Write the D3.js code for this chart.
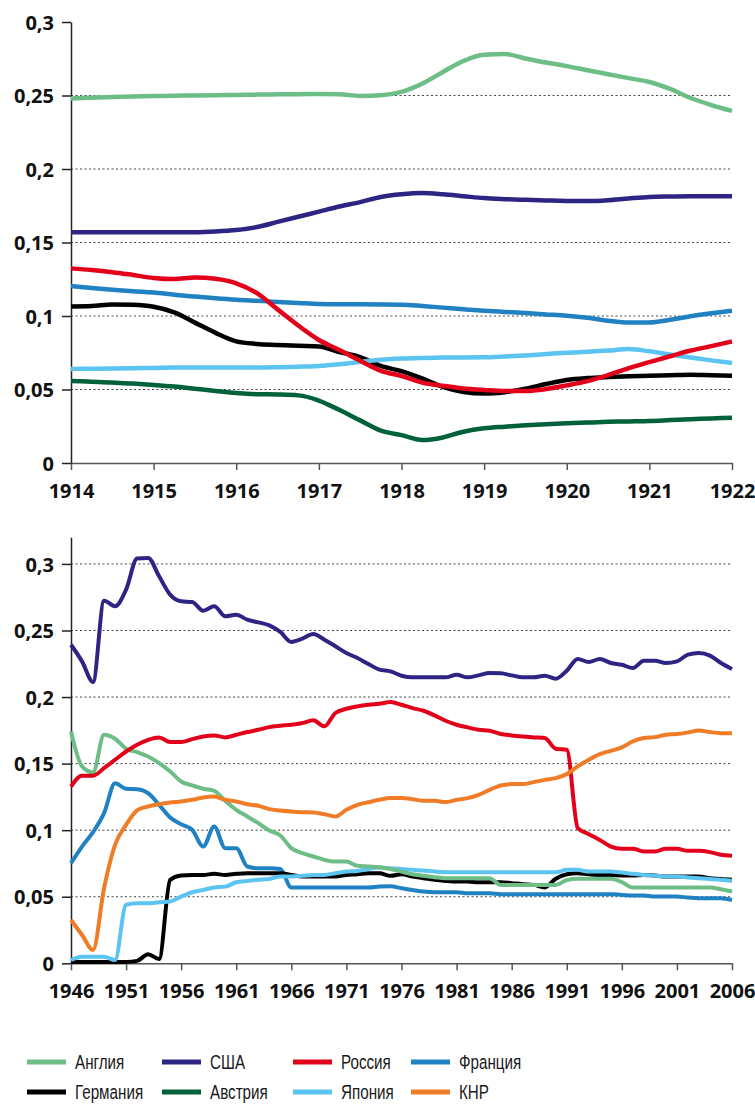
<!DOCTYPE html>
<html>
<head>
<meta charset="utf-8">
<script src="https://cdn.jsdelivr.net/npm/d3@7"></script>
<style>
  body { margin: 0; background: #fff; }
  .tick text { font-family: "Open Sans", "Noto Sans", sans-serif; font-weight: bold; font-size: 20px; fill: #111; }
  .legend text { font-family: "Liberation Sans", Arial, sans-serif; font-size: 19.5px; fill: #1a1a1a; }
</style>
</head>
<body>
<div id="chart"></div>
<script>
// ---- series names and colours (legend order)
const names = ["Англия", "США", "Россия", "Франция", "Германия", "Австрия", "Япония", "КНР"];
const colors = ["#6dbd86", "#2e2483", "#e2001a", "#2081c3", "#000000", "#00613a", "#5bc4f1", "#f07c27"];

// ---- chart 1: 1914-1922 (quarterly readings)
const topYears = [1914, 1914.25, 1914.5, 1914.75, 1915, 1915.25, 1915.5, 1915.75, 1916, 1916.25, 1916.5, 1916.75,
  1917, 1917.25, 1917.5, 1917.75, 1918, 1918.25, 1918.5, 1918.75, 1919, 1919.25, 1919.5, 1919.75,
  1920, 1920.25, 1920.5, 1920.75, 1921, 1921.25, 1921.5, 1921.75, 1922];
const topEngland = [.248, .2485, .249, .2493, .2496, .2499, .25, .2502, .2504, .2506, .2508, .2509,
  .251, .2508, .2497, .2502, .2525, .258, .266, .2735, .2777, .2782, .2752, .2724,
  .27, .2672, .2645, .2618, .2592, .2545, .2483, .2435, .2395];
const topUSA = [.157, .157, .157, .157, .157, .157, .157, .1575, .1585, .1605, .164, .1675,
  .171, .1745, .1775, .181, .1828, .1836, .1828, .1815, .1802, .1795, .179, .1786,
  .1783, .1782, .1788, .18, .181, .1813, .1815, .1815, .1815];
const topRussia = [.1324, .1313, .1298, .1279, .1259, .1251, .1262, .1253, .1222, .1155, .1045, .0935,
  .0837, .0768, .0695, .0627, .0592, .0548, .0525, .0507, .0497, .049, .049, .0503,
  .0528, .0557, .0598, .0646, .0686, .0726, .0765, .0795, .0827];
const topFrance = [.1204, .119, .1178, .1168, .116, .1145, .1132, .112, .111, .1103, .1096, .1089,
  .1082, .108, .108, .1079, .1077, .1068, .1057, .1046, .1036, .1028, .102, .1011,
  .1002, .0988, .0968, .0955, .0956, .0975, .0998, .1018, .1036];
const topGermany = [.1065, .1068, .1078, .1076, .1063, .1025, .0955, .0885, .0827, .081, .0803, .0797,
  .0793, .0755, .072, .066, .0625, .0575, .0518, .0483, .0472, .0482, .0505, .0537,
  .0565, .0578, .0585, .059, .0594, .0597, .06, .0597, .0594];
const topAustria = [.0558, .0553, .0548, .054, .0531, .052, .0505, .049, .0476, .0468, .0466, .046,
  .0425, .036, .029, .022, .019, .0156, .0174, .0213, .0236, .0247, .0256, .0264,
  .027, .0275, .028, .0283, .0286, .0292, .0298, .0303, .0308];
const topJapan = [.064, .0641, .0643, .0645, .0647, .0649, .065, .065, .065, .065, .0652, .0655,
  .066, .0672, .0688, .0702, .0711, .0715, .0717, .0718, .0719, .0725, .0732, .0741,
  .075, .0757, .0765, .0775, .076, .0738, .0718, .0698, .068];
const topXTicks = [1914, 1915, 1916, 1917, 1918, 1919, 1920, 1921, 1922];
const topYTicks = [0, 0.05, 0.1, 0.15, 0.2, 0.25, 0.3];

// ---- chart 2: 1946-2006 (yearly readings)
const bottomYears = [1946, 1947, 1948, 1949, 1950, 1951, 1952, 1953, 1954, 1955, 1956, 1957, 1958, 1959, 1960,
  1961, 1962, 1963, 1964, 1965, 1966, 1967, 1968, 1969, 1970, 1971, 1972, 1973, 1974, 1975,
  1976, 1977, 1978, 1979, 1980, 1981, 1982, 1983, 1984, 1985, 1986, 1987, 1988, 1989, 1990,
  1991, 1992, 1993, 1994, 1995, 1996, 1997, 1998, 1999, 2000, 2001, 2002, 2003, 2004, 2005, 2006];
const bottomUSA = [.2393, .2268, .2113, .2724, .2682, .2807, .304, .3045, .2907, .2769, .2719, .2714, .2649, .2682, .2607,
  .2619, .2581, .2561, .2539, .2489, .2414, .2439, .2474, .2431, .2381, .2331, .2293, .2248, .2206, .2193,
  .216, .2148, .2148, .2148, .2148, .2168, .2148, .2163, .218, .2178, .2163, .2148, .2148, .216, .2138,
  .2198, .2286, .2263, .2286, .2256, .2243, .2218, .2273, .2273, .2256, .2268, .2318, .2331, .2311, .2256, .221];
const bottomRussia = [.1328, .1409, .1409, .1466, .1529, .1591, .1642, .1679, .1697, .1662, .1662, .1684, .1704, .1712, .1697,
  .1717, .1737, .1754, .1774, .1784, .1792, .1805, .1825, .178, .188, .1912, .193, .1942, .195, .1962,
  .1942, .1917, .1897, .1862, .1822, .1792, .1772, .1754, .1747, .1722, .1712, .1704, .1697, .1692, .1612,
  .1604, .1015, .097, .0927, .0877, .086, .086, .084, .084, .086, .086, .0845, .0845, .0835, .0815, .0807];
const bottomEngland = [.1742, .1479, .1434, .1717, .1687, .1612, .1586, .1554, .1504, .1441, .1366, .1336, .1311, .1296, .1221,
  .1153, .1103, .1053, .0997, .096, .0865, .0827, .0802, .0777, .0764, .0764, .0732, .0727, .0722, .0709,
  .0689, .0669, .0657, .0647, .0639, .0639, .0639, .0639, .0639, .0589, .0589, .0589, .0589, .0589, .0589,
  .0625, .0635, .0635, .0635, .0635, .0609, .0569, .0569, .0569, .0569, .0569, .0569, .0569, .0569, .0556, .0539];
const bottomFrance = [.0752, .0877, .0985, .1128, .1353, .1311, .1308, .1278, .119, .1095, .1045, .1003, .0877, .1028, .0865,
  .0865, .0727, .0714, .0714, .0709, .0569, .0569, .0569, .0569, .0569, .0569, .0569, .0569, .0576, .0579,
  .0564, .0551, .0539, .0534, .0534, .0534, .0526, .0526, .0526, .0519, .0519, .0519, .0519, .0519, .0519,
  .0519, .0519, .0519, .0519, .0519, .0514, .0509, .0509, .0501, .0501, .0501, .0494, .0489, .0489, .0489, .0476];
const bottomGermany = [.001, .001, .001, .001, .001, .001, .0018, .0068, .0033, .0627, .0659, .0664, .0664, .0672, .0664,
  .0672, .0677, .0677, .0677, .0677, .0664, .0652, .0652, .0652, .0652, .0664, .0669, .0677, .0677, .0657,
  .0669, .0652, .0639, .0627, .0619, .0614, .0614, .0609, .0609, .0609, .0602, .0594, .0589, .057, .0635,
  .0669, .0677, .0669, .0664, .0664, .0659, .0659, .0664, .0659, .0652, .0652, .0652, .0652, .0639, .0634, .0627];
const bottomJapan = [.0025, .005, .005, .005, .0025, .044, .0451, .0451, .0459, .0464, .0501, .0534, .0551, .0569, .0576,
  .0609, .0619, .0627, .0634, .0652, .0652, .0657, .0664, .0664, .0677, .0689, .0694, .0709, .0719, .0714,
  .0709, .0702, .0697, .0689, .0684, .0684, .0684, .0684, .0684, .0684, .0684, .0684, .0684, .0684, .0684,
  .0702, .0702, .0689, .0689, .0689, .0682, .0672, .0664, .0659, .0652, .0652, .0644, .0639, .0634, .0627, .0619];
const bottomChina = [.0326, .0213, .01, .0564, .089, .104, .1148, .1178, .1195, .1208, .1216, .1228, .1246, .1253, .1228,
  .1216, .1195, .1183, .1158, .1148, .114, .1135, .1133, .112, .1103, .1153, .119, .121, .1228, .1241,
  .1241, .1233, .1221, .1221, .1211, .1228, .1241, .1266, .1303, .1336, .1346, .1346, .1361, .1378, .1391,
  .1421, .1479, .1529, .1571, .1596, .1622, .1667, .1692, .1699, .1717, .1722, .1734, .1749, .1737, .1729, .1729];
const bottomXTicks = [1946, 1951, 1956, 1961, 1966, 1971, 1976, 1981, 1986, 1991, 1996, 2001, 2006];
const bottomYTicks = [0, 0.05, 0.1, 0.15, 0.2, 0.25, 0.3];

const W = 755, H = 1104;
const svg = d3.select("#chart").append("svg")
    .attr("width", W)
    .attr("height", H);

const colorOf = d3.scaleOrdinal().domain(names).range(colors);
const commaFmt = d => String(d).replace(".", ",");

function drawChart(opts) {
    const x = d3.scaleLinear().domain(opts.xDomain).range([71, 732]);
    const y = d3.scaleLinear().domain(opts.yDomain).range(opts.yRange);
    const g = svg.append("g");

    // dotted grid
    g.append("g").selectAll("line")
        .data(opts.yTicks.filter(v => v > 0 && v <= opts.gridMax))
        .enter().append("line")
        .attr("x1", x.range()[0]).attr("x2", x.range()[1])
        .attr("y1", d => y(d)).attr("y2", d => y(d))
        .attr("stroke", "#444")
        .attr("stroke-width", 1)
        .attr("stroke-dasharray", "2,2.5");

    // x axis
    const xAxis = g.append("g")
        .attr("transform", `translate(0,${y(0)})`)
        .call(d3.axisBottom(x).tickValues(opts.xTicks).tickFormat(d3.format("d"))
            .tickSize(7).tickSizeOuter(0).tickPadding(14));
    xAxis.select(".domain").attr("stroke", "#555").attr("stroke-width", 1.5);
    xAxis.selectAll(".tick line").attr("stroke", "#555").attr("stroke-width", 1.5);

    // y axis
    const yAxis = g.append("g")
        .attr("transform", `translate(${x.range()[0]},0)`)
        .call(d3.axisLeft(y).tickValues(opts.yTicks).tickFormat(commaFmt)
            .tickSize(9).tickSizeOuter(0).tickPadding(8));
    yAxis.select(".domain").attr("stroke", "#222").attr("stroke-width", 1.5);
    yAxis.selectAll(".tick line").attr("stroke", "#222").attr("stroke-width", 1.5);
    yAxis.selectAll(".tick text").attr("dy", "0.36em");
    g.selectAll(".domain").attr("fill", "none");

    const line = d3.line()
        .x((d, i) => x(opts.years[i]))
        .y(d => y(d))
        .curve(d3.curveMonotoneX);

    opts.series.forEach(s => {
        g.append("path")
            .datum(s.values)
            .attr("fill", "none")
            .attr("stroke", colorOf(s.name))
            .attr("stroke-width", opts.lineWidth)
            .attr("stroke-linejoin", "round")
            .attr("d", line);
    });
}

drawChart({
    xDomain: [1914, 1922], yDomain: [0, 0.3], yRange: [463, 22],
    years: topYears, xTicks: topXTicks, yTicks: topYTicks, gridMax: 0.25, lineWidth: 4.5,
    series: [
        { name: "Англия", values: topEngland },
        { name: "США", values: topUSA },
        { name: "Франция", values: topFrance },
        { name: "Германия", values: topGermany },
        { name: "Австрия", values: topAustria },
        { name: "Япония", values: topJapan },
        { name: "Россия", values: topRussia }
    ]
});

drawChart({
    xDomain: [1946, 2006], yDomain: [0, 0.32], yRange: [963.3, 537.3],
    years: bottomYears, xTicks: bottomXTicks, yTicks: bottomYTicks, gridMax: 0.3, lineWidth: 4,
    series: [
        { name: "Франция", values: bottomFrance },
        { name: "Германия", values: bottomGermany },
        { name: "Япония", values: bottomJapan },
        { name: "Англия", values: bottomEngland },
        { name: "США", values: bottomUSA },
        { name: "Россия", values: bottomRussia },
        { name: "КНР", values: bottomChina }
    ]
});

// legend: 4 columns, 2 rows (text squeezed horizontally like a narrow face)
const legendCols = [27, 162, 293, 411];
const legendRows = [1062, 1092];
const legend = svg.append("g").attr("class", "legend");
const items = legend.selectAll("g")
    .data(names)
    .enter().append("g")
    .attr("transform", (d, i) => `translate(${legendCols[i % 4]},${legendRows[Math.floor(i / 4)]})`);
items.append("line")
    .attr("x1", 0).attr("x2", 39)
    .attr("stroke", d => colorOf(d))
    .attr("stroke-width", 5);
items.append("text")
    .attr("transform", "translate(48,7) scale(0.78,1)")
    .text(d => d);
</script>
</body>
</html>
